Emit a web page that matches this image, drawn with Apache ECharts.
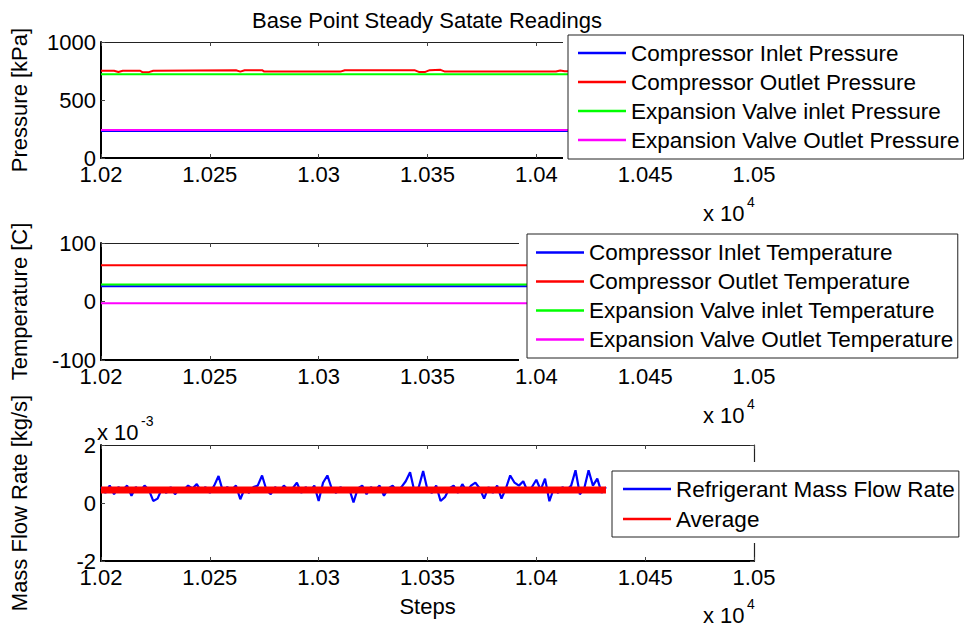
<!DOCTYPE html>
<html>
<head>
<meta charset="utf-8">
<script src="https://cdn.jsdelivr.net/npm/echarts@6/dist/echarts.min.js"></script>
<style>
  html, body { margin: 0; padding: 0; background: #fff; }
  #chart { width: 964px; height: 630px; }
</style>
</head>
<body>
<div id="chart"></div>
<script>
// ---- data -----------------------------------------------------------------
const chartTitle = 'Base Point Steady Satate Readings';

// x axis (simulation steps)
const stepMin = 10200;
const stepMax = 10500;
const stepInterval = 50;

// Pressure subplot [kPa]
const pressureNames = [
  'Compressor Inlet Pressure',
  'Compressor Outlet Pressure',
  'Expansion Valve inlet Pressure',
  'Expansion Valve Outlet Pressure'
];
const flatSteps = [10200, 10432];
const compInletPressure = [232, 232];
const outletPressureSteps = [10200, 10206, 10208, 10210, 10218, 10219, 10222, 10224, 10262, 10264, 10266,
  10274, 10275, 10310, 10312, 10344, 10346, 10349, 10351, 10356, 10358, 10409, 10411, 10413, 10432];
const compOutletPressure = [752, 752, 742, 752, 752, 740, 740, 752, 757, 745, 757,
  757, 745, 745, 757, 757, 742, 742, 757, 760, 745, 745, 755, 748, 748];
const valveInletPressure = [721, 721];
const valveOutletPressure = [241, 241];
const pressureTicks = { min: 0, max: 1000, interval: 500 };

// Temperature subplot [C]
const temperatureNames = [
  'Compressor Inlet Temperature',
  'Compressor Outlet Temperature',
  'Expansion Valve inlet Temperature',
  'Expansion Valve Outlet Temperature'
];
const compInletTemp = [26, 26];
const compOutletTemp = [62, 62];
const valveInletTemp = [29, 29];
const valveOutletTemp = [-3, -3];
const temperatureTicks = { min: -100, max: 100, interval: 100 };

// Mass flow subplot [x 10^-3 kg/s], one sample every 2 steps from 10200
const flowNames = ['Refrigerant Mass Flow Rate', 'Average'];
const flowStart = 10200;
const flowStep = 2;
const massFlow = [
  0.55, 0.35, 0.60, 0.30, 0.55, 0.45, 0.60, 0.25, 0.55, 0.40,
  0.60, 0.45, 0.07, 0.15, 0.50, 0.35, 0.55, 0.30, 0.50, 0.45,
  0.60, 0.50, 0.65, 0.40, 0.55, 0.35, 0.60, 0.93, 0.40, 0.55,
  0.45, 0.60, 0.13, 0.50, 0.35, 0.55, 0.60, 0.95, 0.45, 0.30,
  0.55, 0.40, 0.60, 0.45, 0.50, 0.70, 0.35, 0.55, 0.40, 0.60,
  0.07, 0.70, 0.95, 0.50, 0.35, 0.55, 0.40, 0.50, 0.02, 0.50,
  0.60, 0.30, 0.55, 0.45, 0.60, 0.25, 0.50, 0.60, 0.40, 0.55,
  0.75, 1.06, 0.40, 0.55, 1.10, 0.45, 0.35, 0.60, 0.07, 0.20,
  0.50, 0.60, 0.35, 0.65, 0.40, 0.60, 0.70, 0.50, 0.15, 0.55,
  0.35, 0.60, 0.15, 0.50, 0.95, 0.70, 0.60, 0.75, 0.40, 0.55,
  0.80, 0.45, 0.84, 0.06, 0.50, 0.35, 0.55, 0.45, 0.60, 1.13,
  0.30, 0.50, 1.13, 0.60, 0.84, 0.35, 0.55
];
const flowAverage = [0.45, 0.45];
const flowTicks = { min: -2, max: 2, interval: 2 };

// ---- helpers --------------------------------------------------------------
const FONT = '"Liberation Sans", Arial, sans-serif';
const BLUE = '#0000ff', RED = '#ff0000', GREEN = '#00ff00', MAGENTA = '#ff00ff';

const grids = [
  { left: 98, top: 42, width: 656, height: 116 },
  { left: 98, top: 243, width: 656, height: 117 },
  { left: 98, top: 445, width: 656, height: 116 }
];

function pairs(xs, ys) { return xs.map((x, i) => [x, ys[i]]); }

function stepLabel(v) { return String(+(v / 1e4).toFixed(4)); }

function xAxesFor(g, name) {
  const base = {
    type: 'value', gridIndex: g, min: stepMin, max: stepMax, interval: stepInterval,
    splitLine: { show: false }
  };
  return [
    Object.assign({}, base, {
      position: 'bottom',
      axisLine: { show: true, onZero: false, lineStyle: { color: '#000', width: 2 } },
      axisTick: { show: true, inside: true, length: 4, lineStyle: { color: '#444', width: 1 } },
      axisLabel: { show: true, color: '#000', fontSize: 22, fontFamily: FONT, margin: 5, formatter: stepLabel },
      name: name || '', nameLocation: 'middle', nameGap: 34,
      nameTextStyle: { color: '#000', fontSize: 22, fontFamily: FONT }
    }),
    Object.assign({}, base, {
      position: 'top',
      axisLine: { show: true, onZero: false, lineStyle: { color: '#222', width: 1.2 } },
      axisTick: { show: true, inside: true, length: 4, lineStyle: { color: '#444', width: 1 } },
      axisLabel: { show: false }
    })
  ];
}

function yAxesFor(g, ticks, name) {
  const base = {
    type: 'value', gridIndex: g, min: ticks.min, max: ticks.max, interval: ticks.interval,
    splitLine: { show: false }
  };
  return [
    Object.assign({}, base, {
      position: 'left',
      axisLine: { show: true, onZero: false, lineStyle: { color: '#000', width: 2 } },
      axisTick: { show: true, inside: true, length: 4, lineStyle: { color: '#444', width: 1 } },
      axisLabel: { color: '#000', fontSize: 22, fontFamily: FONT, margin: 5, formatter: v => String(v) },
      name: name, nameLocation: 'middle', nameGap: 71,
      nameTextStyle: { color: '#000', fontSize: 22, fontFamily: FONT }
    }),
    Object.assign({}, base, {
      position: 'right',
      axisLine: { show: true, onZero: false, lineStyle: { color: '#222', width: 1.2 } },
      axisTick: { show: true, inside: true, length: 4, lineStyle: { color: '#444', width: 1 } },
      axisLabel: { show: false }
    })
  ];
}

function line(name, data, color, axisIdx, width) {
  return {
    type: 'line', name: name, data: data,
    xAxisIndex: axisIdx * 2, yAxisIndex: axisIdx * 2,
    showSymbol: false, symbol: 'none', animation: false, silent: true,
    itemStyle: { color: color },
    lineStyle: { color: color, width: width || 2 }
  };
}

function legendBox(names, left, top, padding, lineHeight) {
  return {
    data: names, orient: 'vertical', left: left, top: top,
    padding: padding, itemGap: 0, itemWidth: 48, itemHeight: 2.5, icon: 'rect',
    backgroundColor: '#fff', borderColor: '#222', borderWidth: 1, borderRadius: 0,
    selectedMode: false,
    textStyle: { color: '#000', fontSize: 22.5, fontFamily: FONT, lineHeight: lineHeight }
  };
}

// sub-plot exponent annotations ("x 10^n")
function exponentLabel(x, y, exp) {
  return [
    { type: 'text', x: x, y: y, z: 5,
      style: { text: 'x 10', fill: '#000', fontSize: 22, fontFamily: FONT, verticalAlign: 'middle' } },
    { type: 'text', x: x + 44, y: y - 11, z: 5,
      style: { text: exp, fill: '#000', fontSize: 14, fontFamily: FONT, verticalAlign: 'middle' } }
  ];
}

// white margin around each legend frame
function legendMargin(x, y, w, h) {
  return { type: 'rect', z: 3, shape: { x: x, y: y, width: w, height: h },
    style: { fill: '#fff' }, silent: true };
}

const flowSteps = massFlow.map((_, i) => flowStart + i * flowStep);
const flowEnd = flowSteps[flowSteps.length - 1];

const option = {
  backgroundColor: '#fff',
  animation: false,
  title: {
    text: chartTitle, left: 422, top: 4, textAlign: 'center',
    textStyle: { color: '#000', fontSize: 22, fontWeight: 'normal', fontFamily: FONT }
  },
  grid: grids,
  xAxis: [].concat(xAxesFor(0), xAxesFor(1), xAxesFor(2, 'Steps')),
  yAxis: [].concat(
    yAxesFor(0, pressureTicks, 'Pressure [kPa]'),
    yAxesFor(1, temperatureTicks, 'Temperature [C]'),
    yAxesFor(2, flowTicks, 'Mass Flow Rate [kg/s]')
  ),
  legend: [
    legendBox(pressureNames, 568, 35, [3.5, 4, 4.5, 10], 29),
    legendBox(temperatureNames, 527, 234, [4, 4, 4, 9], 29),
    legendBox(flowNames, 612, 471, [3, 4, 3, 11], 30)
  ],
  series: [
    line(pressureNames[0], pairs(flatSteps, compInletPressure), BLUE, 0),
    line(pressureNames[1], pairs(outletPressureSteps, compOutletPressure), RED, 0),
    line(pressureNames[2], pairs(flatSteps, valveInletPressure), GREEN, 0),
    line(pressureNames[3], pairs(flatSteps, valveOutletPressure), MAGENTA, 0),

    line(temperatureNames[0], pairs(flatSteps, compInletTemp), BLUE, 1),
    line(temperatureNames[1], pairs(flatSteps, compOutletTemp), RED, 1),
    line(temperatureNames[2], pairs(flatSteps, valveInletTemp), GREEN, 1),
    line(temperatureNames[3], pairs(flatSteps, valveOutletTemp), MAGENTA, 1),

    line(flowNames[0], pairs(flowSteps, massFlow), BLUE, 2, 2.2),
    line(flowNames[1], pairs([flowStart, flowEnd], flowAverage), RED, 2, 7)
  ],
  graphic: [].concat(
    [
      legendMargin(563, 30, 401, 132),
      legendMargin(519, 228, 445, 134),
      legendMargin(606, 462, 358, 81)
    ],
    exponentLabel(703, 213, '4'),
    exponentLabel(703, 415, '4'),
    exponentLabel(703, 615, '4'),
    exponentLabel(97, 432, '-3')
  )
};

const chart = echarts.init(document.getElementById('chart'), null, { renderer: 'svg' });
chart.setOption(option);
</script>
</body>
</html>
